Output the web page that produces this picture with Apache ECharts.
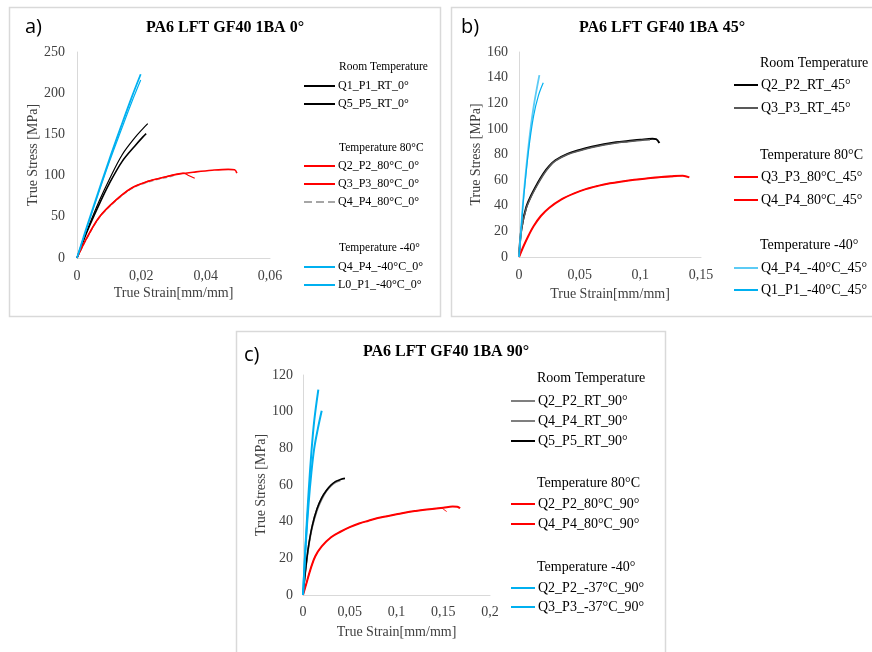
<!DOCTYPE html>
<html>
<head>
<meta charset="utf-8">
<script src="https://cdn.jsdelivr.net/npm/echarts@6/dist/echarts.min.js"></script>
<style>
  html, body { margin: 0; padding: 0; background: #fff; }
  #main { width: 872px; height: 652px; }
</style>
</head>
<body>
<div id="main"></div>
<script>
// ---- data: [strain, stress] ----
// a) 0°
const a_Q1_RT = [[0,0],[0.002,22],[0.004,42],[0.007,70],[0.01,95],[0.014,125],[0.018,146],[0.0205,157],[0.022,163]];
const a_Q5_RT = [[0,0],[0.002,21],[0.004,40],[0.007,66],[0.01,90],[0.014,117],[0.018,136],[0.0205,147],[0.0215,151]];
const a_Q2_80 = [[0,0],[0.003,24],[0.007,50],[0.012,70],[0.017,85],[0.022,93],[0.027,98],[0.032,102],[0.037,104.5],[0.042,106.5],[0.047,107.6],[0.049,107],[0.0497,103]];
const a_Q3_80 = [[0,0],[0.003,24],[0.007,50],[0.012,70],[0.017,85],[0.022,93],[0.027,98],[0.033,103],[0.0345,100.5],[0.0366,96.7]];
const a_Q4_80 = [[0,0],[0.003,23],[0.007,49],[0.012,69],[0.017,84],[0.022,92],[0.027,97],[0.03,99.5]];
const a_Q4_m40 = [[0,0],[0.002,25],[0.005,61],[0.01,119],[0.014,163],[0.017,195],[0.0198,223]];
const a_L0_m40 = [[0,0],[0.002,24],[0.005,59],[0.01,116],[0.014,158],[0.017,189],[0.0198,216]];
// b) 45°
const b_Q2_RT = [[0,0],[0.002,22],[0.006,39],[0.01,48],[0.015,57],[0.02,65],[0.025,71],[0.03,75.5],[0.04,80.5],[0.05,83.5],[0.06,86],[0.07,88],[0.08,89.5],[0.09,90.5],[0.1,91.5],[0.11,92.3],[0.113,92],[0.1157,89]];
const b_Q3_RT = [[0,0],[0.002,21],[0.006,38],[0.01,47],[0.015,56],[0.02,64],[0.025,70.5],[0.03,75],[0.04,80],[0.05,83],[0.06,85.5],[0.07,87.5],[0.08,89],[0.09,90],[0.1,91],[0.108,91.5]];
const b_Q3_80 = [[0,0],[0.004,9],[0.008,17],[0.012,24],[0.018,32],[0.025,38.5],[0.035,45],[0.045,49.5],[0.055,53],[0.065,55.5],[0.075,57.5],[0.085,59],[0.095,60.3],[0.105,61.3],[0.115,62],[0.125,62.6],[0.13,62.8]];
const b_Q4_80 = [[0,0],[0.004,9],[0.008,17],[0.012,24],[0.018,32],[0.025,38.5],[0.035,45],[0.045,49.5],[0.055,53],[0.065,55.5],[0.075,57.5],[0.085,59],[0.095,60.3],[0.105,61.3],[0.115,62.3],[0.125,63],[0.135,63.5],[0.1404,62.2]];
const b_Q4_m40 = [[0,0],[0.002,26],[0.004,50],[0.008,88],[0.012,117],[0.0168,142]];
const b_Q1_m40 = [[0,0],[0.002,25],[0.004,48],[0.008,84],[0.012,110],[0.016,126],[0.02,136]];
// c) 90°
const c_Q2_RT = [[0,0],[0.003,15],[0.006,27],[0.01,38],[0.015,47],[0.02,53],[0.025,57],[0.03,60],[0.035,61.8],[0.038,62.3]];
const c_Q4_RT = [[0,0],[0.003,14],[0.006,26],[0.01,37],[0.015,46],[0.02,52],[0.025,56.5],[0.03,59.5],[0.035,61.5],[0.04,62.5]];
const c_Q5_RT = [[0,0],[0.003,15],[0.006,27],[0.01,38],[0.015,47],[0.02,53],[0.025,57],[0.03,60],[0.035,62],[0.04,63],[0.0449,63.6]];
const c_Q2_80 = [[0,0],[0.004,7],[0.008,14],[0.013,21],[0.02,26.5],[0.03,31.5],[0.04,34.5],[0.05,37],[0.06,39],[0.07,40.5],[0.08,42],[0.09,43],[0.1,44],[0.11,45],[0.12,45.8],[0.13,46.5],[0.14,47],[0.148,47.4],[0.151,46.5],[0.1537,45.5]];
const c_Q4_80 = [[0,0],[0.004,7],[0.008,14],[0.013,21],[0.02,26.5],[0.03,31.5],[0.04,34.5],[0.05,37],[0.06,39],[0.07,40.5],[0.08,42],[0.09,43],[0.1,44],[0.11,45],[0.12,45.8],[0.13,46.5],[0.14,47],[0.15,47.6],[0.16,48.3],[0.165,48.2],[0.168,47.3]];
const c_Q2_m37 = [[0,0],[0.003,30],[0.006,56],[0.009,78],[0.012,95],[0.0164,112]];
const c_Q3_m37 = [[0,0],[0.003,28],[0.006,50],[0.009,67],[0.012,80],[0.016,91],[0.02,100.5]];

const BLACK = '#000000', GREY = '#595959', RED = '#ff0000', BLUE = '#00b0f0', DASH = '#a6a6a6';
const SERIF = '"Liberation Serif", "Times New Roman", serif';

let chart = echarts.init(document.getElementById('main'));

function comma(v) { return String(v).replace('.', ','); }

function xAx(gi, max, interval, fs, labelMargin, nameGap) {
    return {
        gridIndex: gi, type: 'value', min: 0, max: max, interval: interval,
        axisLine: { show: true, lineStyle: { color: '#d9d9d9', width: 1 } },
        axisTick: { show: false }, splitLine: { show: false },
        axisLabel: { formatter: comma, color: '#404040', fontFamily: SERIF, fontSize: fs, margin: labelMargin },
        name: 'True Strain[mm/mm]', nameLocation: 'middle', nameGap: nameGap,
        nameTextStyle: { color: '#404040', fontFamily: SERIF, fontSize: fs }
    };
}
function yAx(gi, max, interval, fs, labelMargin, nameGap) {
    return {
        gridIndex: gi, type: 'value', min: 0, max: max, interval: interval,
        axisLine: { show: true, lineStyle: { color: '#d9d9d9', width: 1 } },
        axisTick: { show: false }, splitLine: { show: false },
        axisLabel: { color: '#404040', fontFamily: SERIF, fontSize: fs, margin: labelMargin },
        name: 'True Stress [MPa]', nameLocation: 'middle', nameGap: nameGap,
        nameTextStyle: { color: '#404040', fontFamily: SERIF, fontSize: fs }
    };
}
function line(name, gi, data, color, width, type, z) {
    return {
        name: name, type: 'line', xAxisIndex: gi, yAxisIndex: gi, data: data,
        symbol: 'none', smooth: 0.35, z: z || 2,
        lineStyle: { color: color, width: width, type: type || 'solid' },
        itemStyle: { color: color }
    };
}
function leg(left, top, names, w, gap, fs) {
    return {
        orient: 'vertical', left: left, top: top, data: names, padding: 0,
        itemWidth: w, itemHeight: 14, itemGap: gap, selectedMode: false,
        itemStyle: { opacity: 0 },
        textStyle: { fontFamily: SERIF, fontSize: fs, color: '#000', padding: [0, 0, 0, -2] }
    };
}
function txt(x, y, s, fs, extra) {
    return {
        type: 'text', x: x, y: y, silent: true,
        style: Object.assign({ text: s, fontFamily: SERIF, fontSize: fs, fill: '#000', verticalAlign: 'middle', textAlign: 'left' }, extra || {})
    };
}
function box(x, y, w, h) {
    return { type: 'rect', shape: { x: x, y: y, width: w, height: h }, silent: true, z: -1,
        style: { fill: 'none', stroke: '#d9d9d9', lineWidth: 1.5 } };
}
const SANS = { fontFamily: '"Open Sans", sans-serif' };
const BOLD = { fontWeight: 'bold', textAlign: 'center' };

let option = {
    backgroundColor: '#fff',
    animation: false,
    grid: [
        { left: 77, top: 52, width: 193, height: 206 },
        { left: 519, top: 52, width: 182, height: 205 },
        { left: 303, top: 375, width: 187, height: 220 }
    ],
    xAxis: [xAx(0, 0.06, 0.02, 14, 11, 28), xAx(1, 0.15, 0.05, 14, 11, 30), xAx(2, 0.2, 0.05, 14, 10, 30)],
    yAxis: [yAx(0, 250, 50, 14, 12, 37), yAx(1, 160, 20, 14, 11, 35), yAx(2, 120, 20, 14, 10, 34)],
    legend: [
        leg(303, 80, ['Q1_P1_RT_0°', 'Q5_P5_RT_0°'], 31, 6, 12),
        leg(303, 160, ['Q2_P2_80°C_0°', 'Q3_P3_80°C_0°', 'Q4_P4_80°C_0°'], 31, 6, 12),
        leg(303, 261, ['Q4_P4_-40°C_0°', 'L0_P1_-40°C_0°'], 31, 6, 12),
        leg(733, 78, ['Q2_P2_RT_45°', 'Q3_P3_RT_45°'], 24, 9, 14),
        leg(733, 170, ['Q3_P3_80°C_45°', 'Q4_P4_80°C_45°'], 24, 9, 14),
        leg(733, 261, ['Q4_P4_-40°C_45°', 'Q1_P1_-40°C_45°'], 24, 8, 14),
        leg(510, 394, ['Q2_P2_RT_90°', 'Q4_P4_RT_90°', 'Q5_P5_RT_90°'], 24, 6, 14),
        leg(510, 497, ['Q2_P2_80°C_90°', 'Q4_P4_80°C_90°'], 24, 6, 14),
        leg(510, 581, ['Q2_P2_-37°C_90°', 'Q3_P3_-37°C_90°'], 24, 5, 14)
    ],
    series: [
        line('Q1_P1_RT_0°', 0, a_Q1_RT, BLACK, 1.2),
        line('Q5_P5_RT_0°', 0, a_Q5_RT, BLACK, 1.6),
        line('Q4_P4_80°C_0°', 0, a_Q4_80, DASH, 1.2, 'dashed', 1),
        line('Q2_P2_80°C_0°', 0, a_Q2_80, RED, 1.6),
        line('Q3_P3_80°C_0°', 0, a_Q3_80, RED, 1.2),
        line('Q4_P4_-40°C_0°', 0, a_Q4_m40, BLUE, 1.8),
        line('L0_P1_-40°C_0°', 0, a_L0_m40, BLUE, 1.2),

        line('Q2_P2_RT_45°', 1, b_Q2_RT, BLACK, 2),
        line('Q3_P3_RT_45°', 1, b_Q3_RT, GREY, 1.5),
        line('Q3_P3_80°C_45°', 1, b_Q3_80, RED, 1),
        line('Q4_P4_80°C_45°', 1, b_Q4_80, RED, 2),
        line('Q4_P4_-40°C_45°', 1, b_Q4_m40, '#5ccbf5', 1.8),
        line('Q1_P1_-40°C_45°', 1, b_Q1_m40, BLUE, 1.2),

        line('Q2_P2_RT_90°', 2, c_Q2_RT, '#7f7f7f', 1.5),
        line('Q4_P4_RT_90°', 2, c_Q4_RT, '#7f7f7f', 1.5),
        line('Q5_P5_RT_90°', 2, c_Q5_RT, BLACK, 1.6),
        line('Q2_P2_80°C_90°', 2, c_Q2_80, RED, 1),
        line('Q4_P4_80°C_90°', 2, c_Q4_80, RED, 2),
        line('Q2_P2_-37°C_90°', 2, c_Q2_m37, BLUE, 2),
        line('Q3_P3_-37°C_90°', 2, c_Q3_m37, BLUE, 2)
    ],
    graphic: [
        box(9.5, 7.5, 431, 309),
        box(451.5, 7.5, 440, 309),
        box(236.5, 331.5, 429, 340),
        txt(25, 27, 'a)', 20, SANS),
        txt(461, 27, 'b)', 20, SANS),
        txt(244, 355, 'c)', 20, SANS),
        txt(225, 28, 'PA6 LFT GF40 1BA 0°', 16, BOLD),
        txt(662, 28, 'PA6 LFT GF40 1BA 45°', 16, BOLD),
        txt(446, 352, 'PA6 LFT GF40 1BA 90°', 16, BOLD),
        txt(339, 67, 'Room Temperature', 11.5),
        txt(339, 148, 'Temperature 80°C', 11.5),
        txt(339, 248, 'Temperature -40°', 11.5),
        txt(760, 63, 'Room Temperature', 14),
        txt(760, 155, 'Temperature 80°C', 14),
        txt(760, 245, 'Temperature -40°', 14),
        txt(537, 378, 'Room Temperature', 14),
        txt(537, 483, 'Temperature 80°C', 14),
        txt(537, 567, 'Temperature -40°', 14)
    ]
};
chart.setOption(option);
</script>
</body>
</html>
